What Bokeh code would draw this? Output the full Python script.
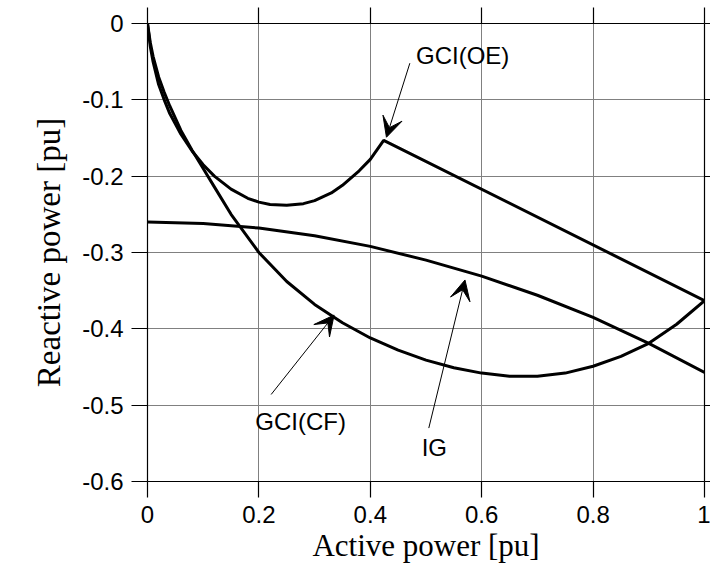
from bokeh.plotting import figure
from bokeh.models import LinearAxis, FixedTicker, Arrow, VeeHead, Label, Range1d
from bokeh.embed import file_html
from bokeh.resources import INLINE

# ---- data ----
oe_x = [0.0, 0.005, 0.01, 0.02, 0.03, 0.04, 0.06, 0.08, 0.10, 0.12, 0.15, 0.18, 0.20, 0.22, 0.25,
        0.28, 0.30, 0.33, 0.35, 0.38, 0.40, 0.424, 1.0]
oe_y = [0.0, -0.03, -0.05, -0.08, -0.10, -0.118, -0.145, -0.167, -0.185, -0.200, -0.217, -0.229,
        -0.234, -0.237, -0.238, -0.236, -0.232, -0.222, -0.212, -0.193, -0.178, -0.153, -0.363]

cf_x = [0.0, 0.005, 0.01, 0.02, 0.03, 0.04, 0.06, 0.08, 0.10, 0.12, 0.15, 0.20, 0.25, 0.30, 0.35,
        0.40, 0.45, 0.50, 0.55, 0.60, 0.65, 0.70, 0.75, 0.80, 0.85, 0.90, 0.95, 1.0]
cf_y = [0.0, -0.025, -0.043, -0.07, -0.09, -0.108, -0.14, -0.166, -0.19, -0.214, -0.25, -0.30,
        -0.338, -0.368, -0.392, -0.412, -0.428, -0.441, -0.451, -0.458, -0.462, -0.462, -0.458,
        -0.449, -0.436, -0.419, -0.394, -0.363]

ig_x = [0.0, 0.1, 0.2, 0.3, 0.4, 0.5, 0.6, 0.7, 0.8, 0.9, 1.0]
ig_y = [-0.26, -0.262, -0.268, -0.278, -0.292, -0.310, -0.331, -0.356, -0.385, -0.419, -0.457]

x_ticks = [0, 0.2, 0.4, 0.6, 0.8, 1]
x_tick_labels = ["0", "0.2", "0.4", "0.6", "0.8", "1"]
y_ticks = [0, -0.1, -0.2, -0.3, -0.4, -0.5, -0.6]
y_tick_labels = ["0", "-0.1", "-0.2", "-0.3", "-0.4", "-0.5", "-0.6"]

# annotations: label text, label position, arrow tail, arrow tip
ann_text = ["GCI(OE)", "GCI(CF)", "IG"]
ann_text_xy = [(0.482, -0.042), (0.275, -0.522), (0.515, -0.556)]
ann_tail = [(0.471, -0.052), (0.222, -0.486), (0.505, -0.530)]
ann_tip = [(0.429, -0.149), (0.335, -0.382), (0.570, -0.336)]

TICK_FONT = "Liberation Sans"
TITLE_FONT = "Liberation Serif"

p = figure(width=710, height=574, x_range=Range1d(0, 1), y_range=Range1d(-0.6, 0),
           output_backend="svg", toolbar_location=None,
           x_axis_location=None, y_axis_location=None)
p.min_border_left = 147
p.min_border_right = 6
p.min_border_top = 23
p.min_border_bottom = 93
p.outline_line_color = None
p.background_fill_color = "white"
p.border_fill_color = "white"

xt = FixedTicker(ticks=x_ticks)
yt = FixedTicker(ticks=y_ticks)


def style(ax, labels, tick_out):
    ax.axis_line_color = "black"
    ax.axis_line_width = 1.2
    ax.major_tick_line_color = "black"
    ax.major_tick_line_width = 1.2
    ax.major_tick_out = tick_out
    ax.major_tick_in = 0
    ax.minor_tick_line_color = None
    if labels is None:
        ax.major_label_text_font_size = "0px"
        ax.major_label_standoff = 0
    else:
        ax.major_label_text_font = TICK_FONT
        ax.major_label_text_font_size = "24px"
        ax.major_label_text_color = "black"
        ax.major_label_standoff = 8


bottom = LinearAxis(ticker=xt)
style(bottom, x_tick_labels, 16)
bottom.major_label_overrides = {t: s for t, s in zip(x_ticks, x_tick_labels)}
bottom.axis_label = "Active power [pu]"
bottom.axis_label_text_font = TITLE_FONT
bottom.axis_label_text_font_size = "31px"
bottom.axis_label_text_font_style = "normal"
bottom.axis_label_text_color = "black"
bottom.axis_label_standoff = 2
p.add_layout(bottom, "below")

left = LinearAxis(ticker=yt)
style(left, y_tick_labels, 16)
left.major_label_overrides = {t: s for t, s in zip(y_ticks, y_tick_labels)}
left.axis_label = "Reactive power [pu]"
left.axis_label_text_font = TITLE_FONT
left.axis_label_text_font_size = "33px"
left.axis_label_text_font_style = "normal"
left.axis_label_text_color = "black"
left.axis_label_standoff = 12
p.add_layout(left, "left")

top = LinearAxis(ticker=xt)
style(top, None, 16)
p.add_layout(top, "above")

right = LinearAxis(ticker=yt)
style(right, None, 6)
p.add_layout(right, "right")

p.xgrid.ticker = xt
p.ygrid.ticker = yt
p.xgrid.grid_line_color = "#808080"
p.ygrid.grid_line_color = "#808080"
p.xgrid.grid_line_width = 1
p.ygrid.grid_line_width = 1

p.line(oe_x, oe_y, line_color="black", line_width=3)
p.line(cf_x, cf_y, line_color="black", line_width=3)
p.line(ig_x, ig_y, line_color="black", line_width=3)

for txt, (tx, ty), (ax0, ay0), (ax1, ay1) in zip(ann_text, ann_text_xy, ann_tail, ann_tip):
    p.add_layout(Arrow(end=VeeHead(size=20, fill_color="black", line_color="black", line_width=1),
                       x_start=ax0, y_start=ay0, x_end=ax1, y_end=ay1,
                       line_color="black", line_width=1))
    p.add_layout(Label(x=tx, y=ty, text=txt, text_font=TICK_FONT, text_font_size="24px",
                       text_color="black", text_align="left" if txt == "GCI(OE)" else "center",
                       text_baseline="middle"))

open("out.html", "w").write(file_html(p, INLINE))
